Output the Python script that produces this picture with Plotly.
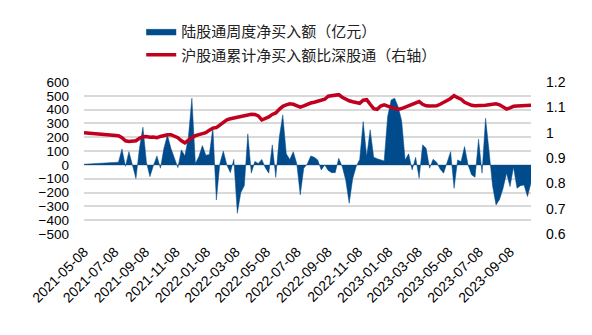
import pandas as pd
import plotly.graph_objects as go

# ---------------- data ----------------
FIRST_DATE = "2021-05-08"
WEEKLY_START = "2021-07-16"
N_WEEKS = 119

FLOW_FIRST = 5          # 陆股通周度净买入额 on FIRST_DATE (亿元)
FLOW = [
    20, 116, -10, 96, 5, -99, 120, 273, 20, -85,
    -5, 65, -24, 120, 217, 120, 50, -20, 109, 65,
    200, 483, 10, 60, 140, 70, 75, 270, -254, 10,
    100, 0, -56, 40, -350, -200, -150, 225, -60, 25,
    10, 40, -20, -60, 145, -90, 200, 362, 80, 40,
    96, 10, -217, -24, 7, 65, 55, 36, -36, 0,
    -40, -56, -56, 48, -12, -109, -278, -100, -12, 40,
    314, 60, 254, 55, 45, 36, 29, 350, 470, 483,
    420, 320, 36, 80, -36, 55, -97, 145, 120, -24,
    41, 20, -30, -60, 20, 96, -169, 36, 24, 133,
    0, -72, -89, 186, -60, 338, 100, -150, -290, -250,
    -170, -60, -157, -17, -169, -150, -145, -229, -130,
]

RATIO_FIRST = 1.000     # 沪股通累计净买入额比深股通 on FIRST_DATE
RATIO = [
    0.988, 0.980, 0.968, 0.965, 0.965, 0.968, 0.978, 0.984, 0.985, 0.982,
    0.983, 0.980, 0.985, 0.990, 0.992, 0.992, 0.987, 0.980, 0.968, 0.960,
    0.970, 0.980, 0.988, 0.992, 0.995, 1.000, 1.010, 1.018, 1.020, 1.030,
    1.042, 1.051, 1.055, 1.058, 1.062, 1.065, 1.068, 1.071, 1.073, 1.072,
    1.066, 1.050, 1.055, 1.062, 1.072, 1.078, 1.092, 1.104, 1.110, 1.114,
    1.112, 1.105, 1.101, 1.106, 1.112, 1.117, 1.120, 1.123, 1.128, 1.132,
    1.144, 1.146, 1.148, 1.150, 1.140, 1.132, 1.126, 1.122, 1.118, 1.116,
    1.128, 1.130, 1.112, 1.095, 1.092, 1.105, 1.110, 1.104, 1.100, 1.096,
    1.093, 1.095, 1.100, 1.106, 1.110, 1.118, 1.123, 1.112, 1.106, 1.105,
    1.105, 1.106, 1.112, 1.118, 1.127, 1.135, 1.146, 1.138, 1.132, 1.120,
    1.114, 1.108, 1.106, 1.106, 1.106, 1.108, 1.110, 1.112, 1.114, 1.110,
    1.100, 1.093, 1.098, 1.104, 1.105, 1.106, 1.106, 1.106, 1.108,
]

TICK_DATES = [
    "2021-05-08", "2021-07-08", "2021-09-08", "2021-11-08", "2022-01-08",
    "2022-03-08", "2022-05-08", "2022-07-08", "2022-09-08", "2022-11-08",
    "2023-01-08", "2023-03-08", "2023-05-08", "2023-07-08", "2023-09-08",
]

LEFT_TICKS = list(range(-500, 601, 100))
RIGHT_TICKS = [0.6, 0.7, 0.8, 0.9, 1.0, 1.1, 1.2]

NAME_FLOW = "陆股通周度净买入额（亿元）"
NAME_RATIO = "沪股通累计净买入额比深股通（右轴）"

# ---------------- build ----------------
weekly = pd.date_range(WEEKLY_START, periods=N_WEEKS, freq="7D")
dates = [pd.Timestamp(FIRST_DATE)] + list(weekly)
flow = [FLOW_FIRST] + FLOW
ratio = [RATIO_FIRST] + RATIO

BLUE = "#004b8b"
RED = "#c0001e"
NUM_FONT = "Liberation Sans, Arial, sans-serif"
CJK_FONT = "Noto Sans CJK SC, sans-serif"

fig = go.Figure()
fig.add_trace(go.Scatter(
    x=dates, y=flow, name=NAME_FLOW, mode="lines",
    fill="tozeroy", fillcolor=BLUE, line=dict(color=BLUE, width=0.5),
    legendgroup="a",
))
fig.add_trace(go.Scatter(
    x=dates, y=ratio, name=NAME_RATIO, mode="lines", yaxis="y2",
    line=dict(color=RED, width=3.5), legendgroup="b",
))

fig.update_layout(
    width=592, height=335,
    margin=dict(l=84, r=61, t=82, b=101),
    paper_bgcolor="white", plot_bgcolor="white",
    showlegend=True,
    legend=dict(
        x=0.128, xanchor="left", y=1.44, yanchor="top",
        font=dict(family=CJK_FONT, size=15, color="#222"),
        traceorder="grouped", tracegroupgap=1,
        bgcolor="rgba(0,0,0,0)",
    ),
    xaxis=dict(
        type="date",
        range=[dates[0], dates[-1]],
        tickmode="array", tickvals=TICK_DATES, ticktext=TICK_DATES,
        tickangle=-45, showgrid=False, zeroline=False, showline=False,
        ticks="", ticklabelstandoff=6,
        tickfont=dict(family=NUM_FONT, size=14, color="black"),
    ),
    yaxis=dict(
        range=[-500, 600], tickmode="array", tickvals=LEFT_TICKS,
        showgrid=True, gridcolor="#d9d9d9", gridwidth=1.5,
        zeroline=False, showline=False, ticks="", ticklabelstandoff=14,
        tickfont=dict(family=NUM_FONT, size=13.5, color="black"),
    ),
    yaxis2=dict(
        range=[0.6, 1.2], tickmode="array", tickvals=RIGHT_TICKS,
        overlaying="y", side="right", showgrid=False, zeroline=False,
        showline=False, ticks="", ticklabelstandoff=14,
        tickfont=dict(family=NUM_FONT, size=14, color="black"),
    ),
)

fig.write_html("out.html")
